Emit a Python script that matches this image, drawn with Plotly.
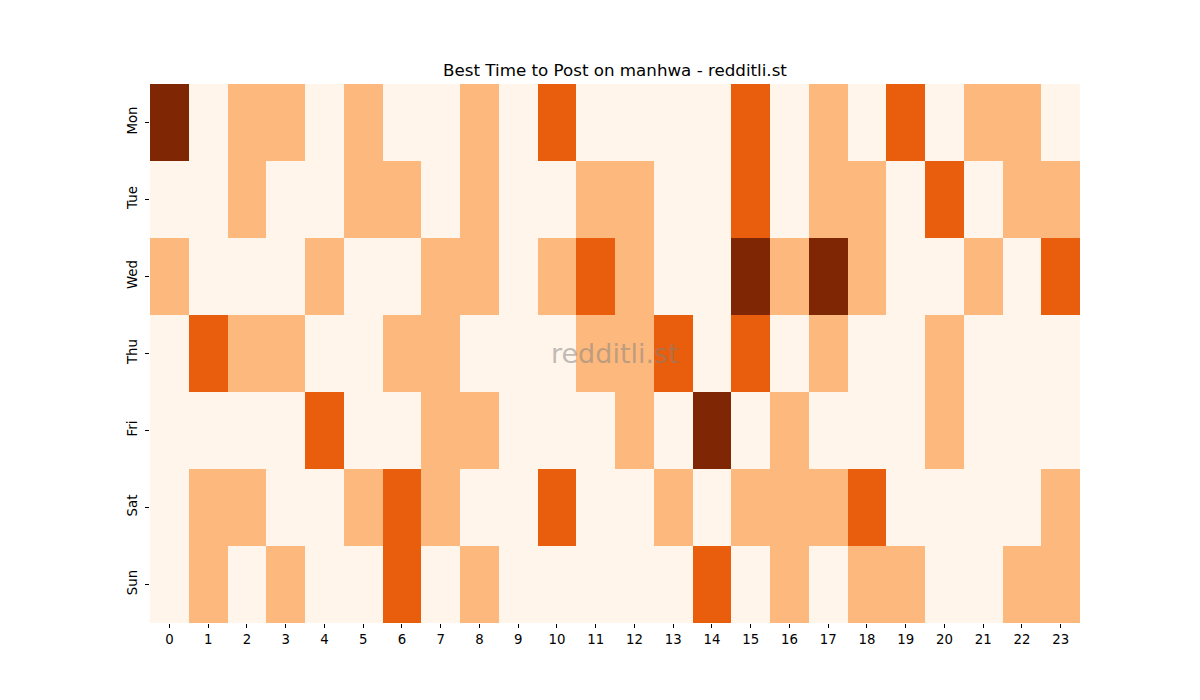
import plotly.graph_objects as go

# Data (0 = quiet ... 3 = busiest)
days = ["Mon", "Tue", "Wed", "Thu", "Fri", "Sat", "Sun"]
hours = list(range(24))

mon = [3, 0, 1, 1, 0, 1, 0, 0, 1, 0, 2, 0, 0, 0, 0, 2, 0, 1, 0, 2, 0, 1, 1, 0]
tue = [0, 0, 1, 0, 0, 1, 1, 0, 1, 0, 0, 1, 1, 0, 0, 2, 0, 1, 1, 0, 2, 0, 1, 1]
wed = [1, 0, 0, 0, 1, 0, 0, 1, 1, 0, 1, 2, 1, 0, 0, 3, 1, 3, 1, 0, 0, 1, 0, 2]
thu = [0, 2, 1, 1, 0, 0, 1, 1, 0, 0, 0, 1, 1, 2, 0, 2, 0, 1, 0, 0, 1, 0, 0, 0]
fri = [0, 0, 0, 0, 2, 0, 0, 1, 1, 0, 0, 0, 1, 0, 3, 0, 1, 0, 0, 0, 1, 0, 0, 0]
sat = [0, 1, 1, 0, 0, 1, 2, 1, 0, 0, 2, 0, 0, 1, 0, 1, 1, 1, 2, 0, 0, 0, 0, 1]
sun = [0, 1, 0, 1, 0, 0, 2, 0, 1, 0, 0, 0, 0, 0, 2, 0, 1, 0, 1, 1, 0, 0, 1, 1]

z = [mon, tue, wed, thu, fri, sat, sun]

# matplotlib "Oranges" sampled at 0, 1/3, 2/3, 1
oranges = [
    [0.0, "#fff5eb"],
    [1 / 3, "#fdb97d"],
    [2 / 3, "#e95e0d"],
    [1.0, "#7f2704"],
]

# page body has an 8px margin, so the figure is drawn 16px smaller
W, H = 1184, 684

fig = go.Figure(go.Heatmap(
    z=z,
    x=hours,
    y=days,
    colorscale=oranges,
    zmin=0,
    zmax=3,
    showscale=False,
))

fig.add_annotation(
    text="redditli.st",
    x=0.5, y=0.5, xref="paper", yref="paper",
    showarrow=False,
    font=dict(size=27, color="rgba(128,128,128,0.5)", family="DejaVu Sans"),
)

fig.update_layout(
    width=W,
    height=H,
    paper_bgcolor="white",
    plot_bgcolor="white",
    margin=dict(l=142, r=112, t=76, b=69),
    font=dict(family="DejaVu Sans", size=13.3, color="black"),
    title=dict(
        text="Best Time to Post on manhwa - redditli.st",
        x=(615 - 8) / W, xanchor="center",
        y=1 - 62 / H, yanchor="middle",
        font=dict(size=16.7, color="black"),
    ),
    xaxis=dict(
        tickmode="array",
        tickvals=hours,
        ticktext=[str(h) for h in hours],
        ticks="outside",
        ticklen=4,
        tickcolor="black",
        tickfont=dict(size=13.3),
        showgrid=False,
        zeroline=False,
        showline=False,
    ),
    yaxis=dict(
        autorange="reversed",
        ticks="outside",
        ticklen=4,
        tickcolor="black",
        tickangle=-90,
        tickfont=dict(size=13.3),
        ticklabelstandoff=3,
        showgrid=False,
        zeroline=False,
        showline=False,
    ),
)

fig.write_html("out.html")
